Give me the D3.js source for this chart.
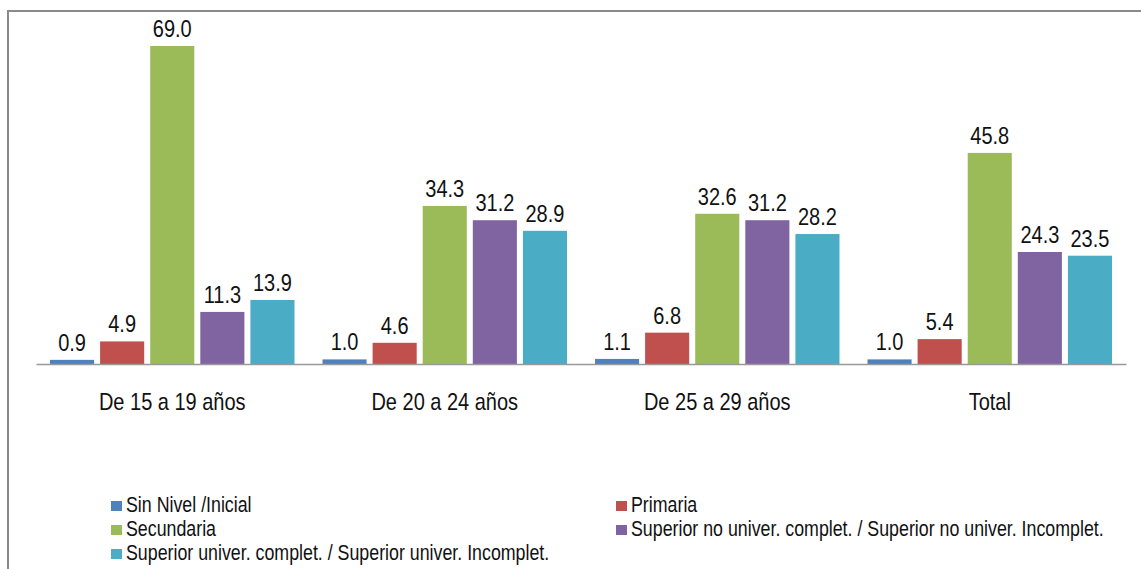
<!DOCTYPE html>
<html><head><meta charset="utf-8">
<script src="https://cdn.jsdelivr.net/npm/d3@7"></script>
<style>body{margin:0;background:#fff}svg{display:block}text{font-family:"Liberation Sans",Arial,sans-serif;fill:#111}</style>
</head><body><svg id="c" width="1141" height="569"></svg>
<script>
const categories = ["De 15 a 19 años","De 20 a 24 años","De 25 a 29 años","Total"];
const seriesNames = ["Sin Nivel /Inicial","Primaria","Secundaria","Superior no univer. complet. / Superior no univer. Incomplet.","Superior univer. complet. / Superior univer. Incomplet."];
const sinNivel = [0.9,1.0,1.1,1.0];
const primaria = [4.9,4.6,6.8,5.4];
const secundaria = [69.0,34.3,32.6,45.8];
const superiorNoUniv = [11.3,31.2,31.2,24.3];
const superiorUniv = [13.9,28.9,28.2,23.5];
const colors = ["#4F81BD","#C0504D","#9BBB59","#8064A2","#4BACC6"];
const seriesValues = [sinNivel,primaria,secundaria,superiorNoUniv,superiorUniv];

const svg = d3.select("#c");
const SY = 1.22;
// outer border
svg.append("rect").attr("x",8).attr("y",11).attr("width",1160).attr("height",600)
  .attr("fill","none").attr("stroke","#8a8a8a").attr("stroke-width",2);

const x0 = d3.scaleBand().domain(categories).range([36,1126]).paddingInner(0).paddingOuter(0);
const x1 = d3.scaleBand().domain(d3.range(5)).range([11, x0.bandwidth()-11]).paddingInner(0.12).paddingOuter(0.06);
const y = d3.scaleLinear().domain([0,69]).range([364,46]);

const data = [];
categories.forEach((c,ci)=>seriesValues.forEach((s,si)=>data.push({c,si,v:s[ci]})));

svg.append("g").selectAll("rect").data(data).join("rect")
  .attr("x",d=>x0(d.c)+x1(d.si)).attr("width",x1.bandwidth())
  .attr("y",d=>y(d.v)).attr("height",d=>y(0)-y(d.v))
  .attr("fill",d=>colors[d.si]);

svg.append("g").selectAll("text").data(data).join("text")
  .attr("transform",d=>`translate(${x0(d.c)+x1(d.si)+x1.bandwidth()/2},${y(d.v)-9}) scale(1,${SY})`)
  .attr("text-anchor","middle").attr("font-size",20)
  .text(d=>d.v.toFixed(1));

// baseline axis
const ax = svg.append("g").attr("transform",`translate(0,${y(0)})`)
  .call(d3.axisBottom(x0).tickSize(0).tickPadding(0));
ax.select(".domain").attr("stroke","#999").attr("stroke-width",1.5);
ax.selectAll(".tick text").attr("font-size",20).attr("dy",null).attr("y",null)
  .attr("fill","#111").attr("font-family","Liberation Sans, Arial, sans-serif")
  .attr("transform",`translate(0,46) scale(1,${SY})`);

// legend
const legPos = [[111,505],[616,505],[111,529],[616,529],[111,553]];
const lg = svg.append("g").selectAll("g").data(seriesNames).join("g")
  .attr("transform",(d,i)=>`translate(${legPos[i][0]},${legPos[i][1]})`);
lg.append("rect").attr("x",0).attr("y",-4).attr("width",11).attr("height",10).attr("fill",(d,i)=>colors[i]);
lg.append("text").attr("transform",`translate(15,7) scale(1,${SY})`).attr("font-size",17.8).text(d=>d);
</script></body></html>
